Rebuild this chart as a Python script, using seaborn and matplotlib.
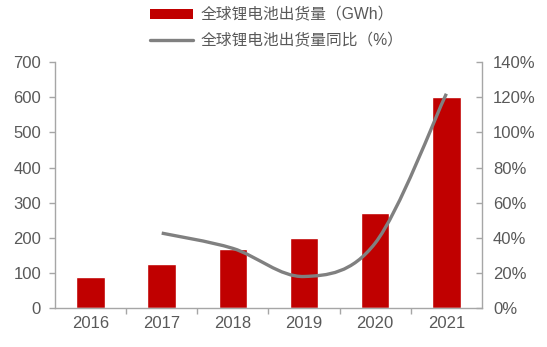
import matplotlib
matplotlib.use("Agg")
import matplotlib.pyplot as plt
import seaborn as sns
import numpy as np
import pandas as pd
from matplotlib.path import Path
from matplotlib.patches import PathPatch, Patch
from matplotlib.lines import Line2D
from matplotlib.ticker import FuncFormatter, MultipleLocator, FixedLocator

years = ["2016", "2017", "2018", "2019", "2020", "2021"]
shipments = [88, 125, 169, 200, 271, 601]
growth_years = ["2017", "2018", "2019", "2020", "2021"]
growth = [42.7, 34.0, 18.0, 37.0, 122.0]
bar_label = "全球锂电池出货量（GWh）"
line_label = "全球锂电池出货量同比（%）"

sns.set_theme(style="white")
plt.rcParams['font.family'] = ['Liberation Sans', 'Noto Sans CJK SC', 'DejaVu Sans']

text_c = "#595959"
axis_c = "#A6A6A6"
bar_c = "#C00000"
line_c = "#808080"
fs = 12

fig = plt.figure(figsize=(5.47, 3.47), dpi=100)
ax = fig.add_axes([0.1005, 0.112, 0.7805, 0.709])

df = pd.DataFrame({"year": years, "val": shipments})
sns.barplot(data=df, x="year", y="val", color=bar_c, width=0.4, saturation=1, ax=ax)
ax.set_xlim(-0.5, 5.5)
ax.set_ylim(0, 700)
ax.yaxis.set_major_locator(MultipleLocator(100))
ax.set_xlabel("")
ax.set_ylabel("")

ax2 = ax.twinx()
ax2.set_ylim(0, 140)
ax2.yaxis.set_major_locator(MultipleLocator(20))
ax2.yaxis.set_major_formatter(FuncFormatter(lambda v, p: f"{int(round(v))}%"))

# smooth line through growth points (Catmull-Rom -> Bezier)
xs = [years.index(y) for y in growth_years]
pts = np.column_stack([xs, growth]).astype(float)
verts = [tuple(pts[0])]
codes = [Path.MOVETO]
n = len(pts)
for i in range(n - 1):
    p0 = pts[i - 1] if i > 0 else pts[i]
    p1 = pts[i]
    p2 = pts[i + 1]
    p3 = pts[i + 2] if i + 2 < n else pts[i + 1]
    c1 = p1 + (p2 - p0) / 6.0
    c2 = p2 - (p3 - p1) / 6.0
    verts += [tuple(c1), tuple(c2), tuple(p2)]
    codes += [Path.CURVE4] * 3
ax2.add_patch(PathPatch(Path(verts, codes), facecolor="none", edgecolor=line_c,
                        lw=2.4, capstyle="butt", zorder=5))

for a in (ax, ax2):
    for s in a.spines.values():
        s.set_color(axis_c)
        s.set_linewidth(1.0)
    a.spines["top"].set_visible(False)
    a.grid(False)

ax.spines["right"].set_visible(False)
ax2.spines["left"].set_visible(False)
ax2.spines["bottom"].set_visible(False)

ax.tick_params(axis="y", direction="out", length=4, width=1, color=axis_c,
               labelcolor=text_c, labelsize=fs, pad=6, left=True)
ax.tick_params(axis="x", which="major", length=0, labelcolor=text_c, labelsize=fs, pad=6)
ax.xaxis.set_minor_locator(FixedLocator([0.5, 1.5, 2.5, 3.5, 4.5]))
ax.tick_params(axis="x", which="minor", direction="out", length=4, width=1,
               color=axis_c, bottom=True)
ax2.tick_params(axis="y", direction="in", length=4, width=1, color=axis_c,
                labelcolor=text_c, labelsize=fs, pad=8, right=True)

handles = [Patch(facecolor=bar_c, edgecolor="none"),
           Line2D([0], [0], color=line_c, lw=2.4)]
leg = fig.legend(handles, [bar_label, line_label], loc="upper center",
                 bbox_to_anchor=(0.506, 1.02), frameon=False, fontsize=11.3,
                 labelcolor=text_c, handlelength=2.7, handleheight=0.65,
                 handletextpad=0.5, labelspacing=0.7)

fig.savefig("out.png", dpi=100)
